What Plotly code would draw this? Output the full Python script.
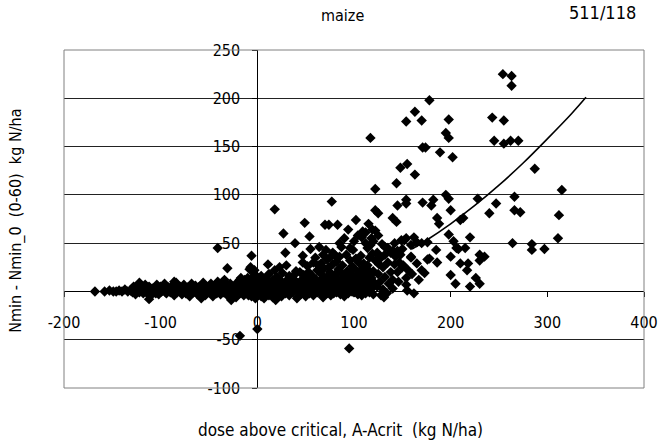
import plotly.graph_objects as go

# ---------------- data ----------------
upper_pts = [
    (254, 225), (263, 223), (263, 213),
    (178, 198), (163, 186), (154, 176), (170, 177), (198, 178), (195, 164), (198, 159),
    (243, 180), (255, 177), (245, 156), (255, 153), (262, 156), (270, 156),
    (171, 149), (174, 149), (189, 144), (202, 139), (117, 159),
    (148, 128), (155, 132), (163, 121), (144, 112), (287, 127), (315, 105), (122, 106), (266, 98),
    (228, 96), (247, 91), (240, 81), (266, 84), (272, 82), (312, 79), (195, 100), (198, 96), (200, 84),
    (171, 92), (182, 95), (180, 89), (154, 95), (154, 91), (145, 89), (140, 76), (144, 72), (186, 76),
    (188, 70), (210, 74), (213, 76), (122, 84), (125, 81),
    (311, 55), (264, 50), (284, 49), (284, 43), (297, 44),
    (198, 59), (220, 56), (200, 36), (208, 44), (185, 43), (176, 33), (165, 29), (170, 22), (173, 19),
    (210, 29), (218, 29), (217, 22), (230, 38), (235, 36), (230, 32), (200, 17), (226, 14), (230, 8),
    (220, 5), (154, 14), (154, 7), (155, 1), (162, -2), (131, -6),
    (159, 35), (142, 50), (152, 53), (162, 56), (170, 50),
    (122, 63), (125, 58), (129, 49), (132, 46), (149, 53), (154, 55), (165, 51), (159, 48), (176, 51),
    (206, 45), (178, 34), (159, 36),
    (77, 93), (18, 85), (49, 71), (70, 69), (74, 69), (83, 69), (102, 74), (94, 64), (112, 61),
    (119, 64), (27, 60), (54, 57), (39, 50),
    (-6, 37), (29, 40), (55, 44), (11, 28), (47, 37), (47, 30), (64, 46), (71, 43), (78, 40), (87, 46),
    (96, 45), (99, 43), (114, 45), (117, 48),
    (-7, 25), (-3, 22), (18, 22), (23, 25), (30, 27), (38, 17), (44, 20), (63, 27), (69, 24), (74, 25),
    (96, 32), (105, 30), (114, 27), (122, 32),
    (-41, 45), (-31, 24), (-18, -46), (0, -39), (95, -59),
    (-112, -8), (-122, 9), (-86, 10), (-56, 9), (-64, 5), (-58, -7), (-27, -7), (-17, 14), (-8, 23),
    (7, -7), (19, -9), (41, -7), (68, -6), (79, -2), (-41, 10), (-34, 12), (-13, 12), (-27, -9),
    (124, 40), (128, 35), (126, 28), (130, 25), (135, 30), (138, 20), (125, 18), (132, 15), (127, 10),
    (136, 8), (140, 12), (124, 5), (130, 2), (134, -2), (128, -4), (140, 3), (145, 20), (142, 28),
    (148, 38), (150, 25), (146, 10), (138, 40), (132, 38), (145, 42), (150, 44),
    (135, 45), (140, 42), (143, 36), (147, 30), (151, 27), (156, 22), (160, 18), (167, 12),
    (186, 30), (203, 52), (215, 45), (205, 8),
    (104, 58), (109, 62), (120, 52), (115, 70),
]

band_pts = [
    (-168, 0), (-158, 0), (-153, 1), (-149, 0), (-146, 0), (-143, 1), (-140, 0), (-137, 2), (-134, 0),
    (-131, 1), (-129, -1), (-127, 2), (-125, 0), (-123, 3), (-121, 1), (-119, 0), (-117, 2), (-115, -1),
    (-113, 1), (-111, 3), (-109, 0), (-107, 2), (-105, -2), (-103, 1), (-101, 4), (-99, 0), (-97, 2),
    (-95, -1), (-93, 3), (-91, 1), (-89, 0), (-87, 5), (-85, 2), (-83, -1), (-81, 3), (-79, 0), (-77, 2),
    (-75, 4), (-73, -2), (-71, 1), (-69, 3), (-67, 0), (-65, 5), (-63, 2), (-61, -1), (-59, 4), (-57, 1),
    (-55, 3), (-53, -3), (-51, 2), (-49, 6), (-47, 0), (-45, 3), (-43, -2), (-41, 4), (-39, 1), (-37, 5),
    (-35, -1), (-33, 3), (-31, 7), (-29, 2), (-27, -3), (-25, 4), (-23, 1), (-21, 6), (-19, -2), (-17, 3),
    (-15, 8), (-13, 0), (-11, 5), (-9, -4), (-7, 2), (-5, 6), (-3, -1), (-1, 4),
    (-128, 5), (-124, 6), (-119, 4), (-116, 7), (-112, 5), (-108, 3), (-104, 7), (-100, 5), (-96, 8),
    (-92, 4), (-88, 6), (-84, 9), (-80, 5), (-76, 7), (-72, 4), (-68, 8), (-64, 6), (-60, 5), (-56, 7),
    (-52, 4), (-48, 8), (-44, 6), (-40, 5), (-36, 9), (-32, 6), (-28, 8), (-24, 5), (-20, 10), (-16, 7),
    (-12, 9), (-8, 6), (-4, 11), (-2, 8),
    (-126, -3), (-118, -2), (-110, -4), (-102, -3), (-94, -2), (-86, -4), (-78, -3), (-70, -5), (-62, -3),
    (-54, -4), (-46, -5), (-38, -3), (-30, -5), (-22, -6), (-14, -4), (-6, -5), (-2, -7), (-10, -3),
    (-18, -2), (-26, -2), (-34, -1), (-42, -2), (-50, -1), (-66, -1), (-74, -2), (-90, -1), (-106, -1),
    (-114, -1), (-122, -1),
    (-126, 2), (-115, 3), (-105, 1), (-95, 3), (-85, 1), (-75, 3), (-65, 2), (-55, 1), (-45, 3), (-35, 2),
    (-25, 3), (-15, 2), (-5, 3), (-3, 1), (-7, 2),
    (-20, 4), (-18, 12), (-15, 10), (-12, 3), (-10, 14), (-8, 10), (-6, 13), (-4, 3), (-2, 16), (-1, 12),
    (-3, 18), (-5, 7), (-9, -1),
]

core_pts = [
    (1, -3), (4, -5), (8, -2), (12, -4), (16, -6), (21, -3), (25, -5), (29, -2), (33, -4), (37, -1),
    (45, -3), (50, -5), (54, -2), (58, -4), (62, -1), (66, -3), (72, -2), (76, -4), (82, -1), (86, -3),
    (90, -5), (94, -2), (100, -1), (104, -3), (108, -4), (112, -2), (116, -1), (120, -3),
    (0, 2), (2, 0), (3, 4), (5, 1), (6, 5), (9, 2), (10, 6), (11, 0), (13, 3), (14, 5), (15, 1), (17, 4),
    (19, 2), (20, 6), (22, 0), (23, 3), (24, 5), (26, 1), (27, 4), (28, 6), (31, 2), (32, 0), (34, 4),
    (35, 6), (36, 1), (38, 3), (40, 5), (42, 0), (43, 2), (44, 6), (46, 3), (48, 1), (49, 5), (51, 2),
    (52, 4), (55, 0), (56, 6), (57, 3), (59, 1), (60, 5), (61, 2), (63, 4), (64, 0), (65, 6), (67, 2),
    (68, 4), (70, 1), (71, 5), (73, 3), (75, 0), (77, 6), (78, 2), (80, 4), (81, 1), (83, 5), (85, 3),
    (87, 0), (88, 6), (89, 2), (91, 4), (93, 1), (95, 5), (97, 3), (98, 0), (101, 6), (102, 2), (105, 4),
    (107, 1), (109, 5), (111, 3), (113, 0), (115, 6), (117, 2), (119, 4),
    (1, 9), (3, 12), (6, 8), (8, 13), (11, 10), (14, 8), (16, 12), (19, 9), (22, 13), (25, 10), (28, 8),
    (31, 12), (34, 9), (37, 13), (40, 10), (43, 8), (46, 12), (49, 9), (52, 14), (55, 10), (58, 8),
    (61, 12), (64, 9), (67, 13), (70, 11), (73, 8), (76, 12), (79, 10), (82, 14), (85, 9), (88, 12),
    (91, 8), (94, 13), (97, 10), (100, 14), (103, 9), (106, 12), (109, 8), (112, 13), (115, 10),
    (118, 14), (121, 9),
    (4, 16), (12, 18), (20, 15), (26, 19), (33, 16), (40, 21), (48, 17), (53, 20), (57, 16), (62, 22),
    (66, 18), (72, 15), (75, 20), (80, 17), (84, 23), (87, 19), (90, 16), (93, 21), (97, 18), (100, 24),
    (103, 17), (106, 21), (108, 15), (111, 19), (114, 23), (117, 17), (120, 21), (110, 25),
    (52, 26), (58, 30), (60, 35), (66, 29), (72, 33), (78, 28), (82, 31), (85, 36), (88, 27), (92, 38),
    (98, 26), (102, 34), (107, 37), (110, 29), (116, 35), (119, 39), (85, 50), (90, 55), (100, 52),
    (108, 56), (112, 50), (118, 55), (80, 38), (75, 35), (68, 38),
]

trend_x = [160, 175, 200, 225, 250, 275, 300, 325, 340]
trend_y = [44, 53, 70, 89, 110, 133, 158, 184, 201]

x_ticks = [-200, -100, 0, 100, 200, 300, 400]
x_tick_labels = ["-200", "-100", "0", "100", "200", "300", "400"]
y_ticks = [-100, -50, 0, 50, 100, 150, 200, 250]
y_tick_labels = ["-100", "-50", "", "50", "100", "150", "200", "250"]

title_text = "maize"
count_text = "511/118"
x_title = "dose above critical, A-Acrit  (kg N/ha)"
y_title = "Nmin - Nmin_0  (0-60)  kg N/ha"

# ---------------- figure ----------------
all_pts = upper_pts + band_pts + core_pts
xs = [p[0] for p in all_pts]
ys = [p[1] for p in all_pts]

FONT = "Liberation Sans Narrow, Arial Narrow, DejaVu Sans Condensed, Liberation Sans, sans-serif"

fig = go.Figure()
fig.add_trace(go.Scatter(x=trend_x, y=trend_y, mode="lines", line=dict(color="black", width=1.6, shape="spline"),
                         hoverinfo="skip", showlegend=False))
fig.add_trace(go.Scatter(x=xs, y=ys, mode="markers",
                         marker=dict(symbol="diamond", size=8, color="black", line=dict(width=0)),
                         showlegend=False))

fig.update_layout(
    width=670, height=441,
    margin=dict(l=64, r=16, t=50, b=53),
    paper_bgcolor="white", plot_bgcolor="white",
    font=dict(family=FONT, size=16, color="black"),
    xaxis=dict(range=[-200, 400], tickvals=x_ticks, ticktext=x_tick_labels, showgrid=False, zeroline=False,
               showline=True, linecolor="black", linewidth=1,
               ticks="outside", ticklen=5, tickcolor="black",
               anchor="free", position=100 / 350, ticklabelstandoff=11,
               tickfont=dict(size=16)),
    yaxis=dict(range=[-100, 250], tickvals=y_ticks, ticktext=y_tick_labels, showgrid=True,
               gridcolor="#222", gridwidth=1,
               zeroline=False, showline=True, linecolor="black", linewidth=1,
               ticks="outside", ticklen=5, tickcolor="black",
               anchor="free", position=200 / 600, ticklabelstandoff=9,
               tickfont=dict(size=16)),
    shapes=[dict(type="rect", xref="paper", yref="paper", x0=0, x1=1, y0=0, y1=1,
                 line=dict(color="#808080", width=1), layer="above")],
    annotations=[
        dict(text=title_text, xref="paper", yref="paper", x=(347 - 64) / 590, y=(388 - 15) / 338,
             showarrow=False, xanchor="center", yanchor="middle", font=dict(size=16)),
        dict(text=count_text, xref="paper", yref="paper", x=(612 - 64) / 590, y=(388 - 12) / 338,
             showarrow=False, xanchor="center", yanchor="middle", font=dict(size=18)),
        dict(text=x_title, xref="paper", yref="paper", x=(345 - 64) / 590, y=(388 - 430) / 338,
             showarrow=False, xanchor="center", yanchor="middle", font=dict(size=17)),
        dict(text=y_title, xref="paper", yref="paper", x=(15 - 64) / 590, y=(388 - 221) / 338,
             showarrow=False, xanchor="center", yanchor="middle", textangle=-90, font=dict(size=16)),
    ],
)

fig.write_html("out.html")
